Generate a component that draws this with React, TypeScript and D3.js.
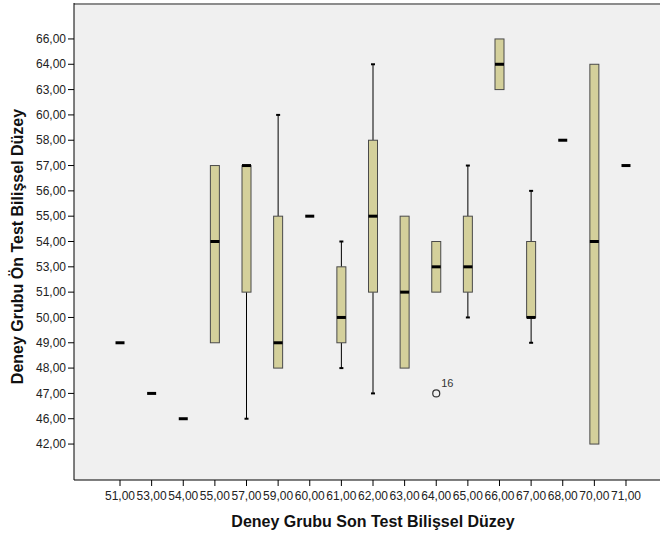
import React from "react";
import * as d3 from "d3";

const xCategories = [51, 53, 54, 55, 57, 59, 60, 61, 62, 63, 64, 65, 66, 67, 68, 70, 71];
const yLevels = [66, 64, 63, 60, 58, 57, 56, 55, 54, 53, 51, 50, 49, 48, 47, 46, 42];

// per category: q1, median, q3, whisker low, whisker high (null = none)
const q1Values = [49, 47, 46, 49, 51, 48, 55, 49, 51, 48, 51, 51, 63, 50, 58, 42, 57];
const medianValues = [49, 47, 46, 54, 57, 49, 55, 50, 55, 51, 53, 53, 64, 50, 58, 54, 57];
const q3Values = [49, 47, 46, 57, 57, 55, 55, 53, 58, 55, 54, 55, 66, 54, 58, 64, 57];
const whiskerLow: (number | null)[] = [null, null, null, null, 46, null, null, 48, 47, null, null, 50, null, 49, null, null, null];
const whiskerHigh: (number | null)[] = [null, null, null, null, null, 60, null, 54, 64, null, null, 57, null, 56, null, null, null];

const outliers = [{ cat: 64, value: 47, label: "16" }];

const fmt = (v: number) => v.toFixed(2).replace(".", ",");

export default function App() {
  const W = 660, H = 536;
  const left = 74, right = 672, top = 3, bottom = 480;

  const x = d3.scalePoint<string>().domain(xCategories.map(fmt)).range([left, right]).padding(1.455);
  const y = d3.scalePoint<string>().domain(yLevels.map(fmt)).range([top, bottom]).padding(1.42);
  const Y = (v: number) => y(fmt(v)) as number;
  const X = (c: number) => x(fmt(c)) as number;

  const bw = 9;
  const font = "Liberation Sans, Arial, sans-serif";

  return (
    <svg width={W} height={H} style={{ position: "absolute", left: 0, top: 0 }} fontFamily={font}>
      <rect x={0} y={0} width={W} height={H} fill="#ffffff" />
      <rect x={left} y={top} width={right - left} height={bottom - top} fill="#f0f0f0" />
      <line x1={left} x2={right} y1={top + 1} y2={top + 1} stroke="#8c8c8c" strokeWidth={2} />
      <line x1={left} x2={left} y1={top} y2={bottom} stroke="#000" strokeWidth={1} />
      <line x1={left} x2={right} y1={bottom} y2={bottom} stroke="#000" strokeWidth={1} />

      {yLevels.map((v) => (
        <g key={"y" + v}>
          <line x1={left - 6} x2={left} y1={Y(v)} y2={Y(v)} stroke="#000" />
          <text x={left - 8} y={Y(v)} dy="0.35em" textAnchor="end" fontSize={12} fill="#222">
            {fmt(v)}
          </text>
        </g>
      ))}
      {xCategories.map((c) => (
        <g key={"x" + c}>
          <line x1={X(c)} x2={X(c)} y1={bottom} y2={bottom + 6} stroke="#000" />
          <text x={X(c)} y={bottom + 20} textAnchor="middle" fontSize={12} fill="#222">
            {fmt(c)}
          </text>
        </g>
      ))}

      {xCategories.map((c, i) => {
        const cx = X(c);
        const wl = whiskerLow[i];
        const wh = whiskerHigh[i];
        const hasBox = q1Values[i] !== q3Values[i];
        return (
          <g key={"b" + c}>
            {wh !== null && (
              <g>
                <line x1={cx} x2={cx} y1={Y(wh)} y2={Y(q3Values[i])} stroke="#000" />
                <line x1={cx - 2} x2={cx + 2} y1={Y(wh)} y2={Y(wh)} stroke="#000" strokeWidth={2} />
              </g>
            )}
            {wl !== null && (
              <g>
                <line x1={cx} x2={cx} y1={Y(q1Values[i])} y2={Y(wl)} stroke="#000" />
                <line x1={cx - 2} x2={cx + 2} y1={Y(wl)} y2={Y(wl)} stroke="#000" strokeWidth={2} />
              </g>
            )}
            {hasBox && (
              <rect
                x={cx - bw / 2}
                y={Y(q3Values[i])}
                width={bw}
                height={Y(q1Values[i]) - Y(q3Values[i])}
                fill="#d4d09b"
                stroke="#4a4a4a"
                strokeWidth={1}
              />
            )}
            <line
              x1={cx - bw / 2}
              x2={cx + bw / 2}
              y1={Y(medianValues[i])}
              y2={Y(medianValues[i])}
              stroke="#000"
              strokeWidth={3}
            />
          </g>
        );
      })}

      {outliers.map((o) => (
        <g key={"o" + o.label}>
          <circle cx={X(o.cat)} cy={Y(o.value)} r={3.5} fill="none" stroke="#333" strokeWidth={1.2} />
          <text x={X(o.cat) + 5} y={Y(o.value) - 6} fontSize={11} fill="#333">
            {o.label}
          </text>
        </g>
      ))}

      <text x={(left + right) / 2} y={527} textAnchor="middle" fontSize={16} fontWeight="bold" fill="#111">
        Deney Grubu Son Test Bilişsel Düzey
      </text>
      <text
        transform={`translate(23, ${(98 + 395) / 2}) rotate(-90)`}
        textAnchor="middle"
        fontSize={16}
        fontWeight="bold"
        fill="#111"
      >
        Deney Grubu Ön Test Bilişsel Düzey
      </text>
    </svg>
  );
}
